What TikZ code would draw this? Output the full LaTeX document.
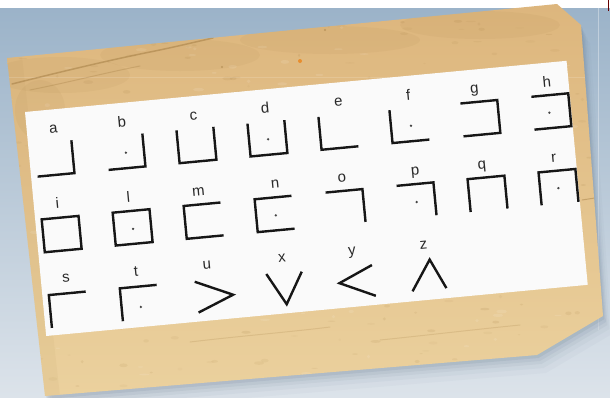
\documentclass[tikz,border=0pt]{standalone}
\usepackage{fontspec}
\setmainfont{Liberation Sans}
\definecolor{bgtop}{HTML}{9AB2C8}
\definecolor{bgmid}{HTML}{BCCBD9}
\definecolor{bgbot}{HTML}{DCE3EA}
\definecolor{partop}{HTML}{DDB67D}
\definecolor{parbot}{HTML}{EBD19E}
\definecolor{parspeck}{HTML}{A07A40}
\definecolor{cardc}{HTML}{FAFAFA}
\definecolor{inkc}{HTML}{161616}
\definecolor{shadowc}{HTML}{5F7489}
\begin{document}
\begin{tikzpicture}[x=1pt,y=-1pt,
  glyph/.style={line width=2.4pt,draw=inkc,line join=miter,line cap=butt},
  lbl/.style={anchor=base,inner sep=0pt,font=\fontsize{15}{18}\selectfont,text=inkc!92},
  pdot/.style={fill=inkc!80,draw=none},
  crack/.style={draw=parspeck,line width=1pt,opacity=0.35,line cap=round}]
\useasboundingbox (0,0) rectangle (610,397);
% background
\shade[top color=bgtop,middle color=bgmid,bottom color=bgbot] (0,0) rectangle (610,397);
\draw[white,opacity=0.35,line width=0.7pt] (598,8) -- (598,330);
\fill[white] (0,0) rectangle (610,7.5);
\draw[red!40!black,line width=1.2pt] (608.5,0) -- (608.5,11);
\def\parpath{(7,58) -- (557,4) -- (581,25) -- (603,316) -- (537,355) -- (45,396) -- cycle}
% shadow of the parchment
\foreach \s/\o in {3/0.12,6/0.09,9/0.07,13/0.05,18/0.04}{
  \fill[shadowc,opacity=\o,shift={(0.5*\s,\s)}] \parpath;
}
% parchment
\shade[top color=partop,bottom color=parbot] \parpath;
\begin{scope}
  \clip \parpath;
  \pgfmathsetseed{42}
  \foreach \i in {1,...,320}{
    \pgfmathsetmacro\px{610*rnd}
    \pgfmathsetmacro\py{397*rnd}
    \pgfmathsetmacro\ra{1.2+4*rnd}
    \pgfmathsetmacro\rb{0.5+1.4*rnd}
    \pgfmathsetmacro\oo{0.04+0.10*rnd}
    \fill[parspeck,opacity=\oo] (\px,\py) ellipse [x radius=\ra pt, y radius=\rb pt];
  }
  \foreach \i in {1,...,120}{
    \pgfmathsetmacro\px{610*rnd}
    \pgfmathsetmacro\py{397*rnd}
    \pgfmathsetmacro\ra{1.5+4*rnd}
    \pgfmathsetmacro\rb{0.6+1.4*rnd}
    \fill[white,opacity=0.10] (\px,\py) ellipse [x radius=\ra pt, y radius=\rb pt];
  }
  \foreach \cx/\cy/\rx/\ry in {60/75/70/18, 180/55/80/16, 330/40/90/14, 480/25/80/14, 40/110/25/30}{
    \fill[parspeck,opacity=0.07] (\cx,\cy) ellipse [x radius=\rx pt, y radius=\ry pt];
  }
  \fill[parspeck,opacity=0.06] (7,58) -- (22,57) -- (60,396) -- (45,396) -- cycle;
  \draw[white,opacity=0.15,line width=0.7pt] (0,77) -- (610,77);
  \draw[crack,line width=1.5pt,opacity=0.5] (12,84) .. controls (60,72) and (110,60) .. (150,52) .. controls (175,47) and (195,42) .. (213,38);
  \draw[crack,opacity=0.3] (30,90) .. controls (70,82) and (100,74) .. (140,66);
  \fill[orange!70!brown,opacity=0.75] (300,61) circle [radius=2pt];
  \fill[parspeck,opacity=0.5] (222,67) circle [radius=1.2pt] (325,30) circle [radius=1.2pt];
  \draw[crack,opacity=0.45] (582,200) -- (601,197);
  \draw[crack,opacity=0.2] (190,342) .. controls (240,336) and (290,332) .. (330,327);
  \draw[crack,opacity=0.2] (380,340) .. controls (420,336) and (470,330) .. (520,325);
\end{scope}
% card with the cipher
\begin{scope}[shift={(25,112)},rotate=5.4,transform shape]
  \fill[cardc] (0,0) rectangle (544,225);
  % row 1 labels
  \node[lbl] (la) at (26.6,24) {a};
  \node[lbl] (lb) at (95.4,24) {b};
  \node[lbl] (lc) at (167.3,24) {c};
  \node[lbl] (ld) at (239.4,24) {d};
  \node[lbl] (le) at (312.9,24) {e};
  \node[lbl] (lf) at (383.2,24) {f};
  \node[lbl] (lg) at (449.5,24) {g};
  \node[lbl] (lh) at (522.4,24) {h};
  % row 2 labels
  \node[lbl] (li) at (23.6,99.5) {i};
  \node[lbl] (ll) at (94.9,99.5) {l};
  \node[lbl] (lm) at (165.2,99.5) {m};
  \node[lbl] (ln) at (242.2,99.5) {n};
  \node[lbl] (lo) at (309.2,99.5) {o};
  \node[lbl] (lp) at (382.8,99.5) {p};
  \node[lbl] (lq) at (449.9,99.5) {q};
  \node[lbl] (lr) at (522,99.5) {r};
  % row 3 labels
  \node[lbl] (ls) at (25.2,173.7) {s};
  \node[lbl] (lt) at (95.6,173.7) {t};
  \node[lbl] (lu) at (166.7,173.7) {u};
  \node[lbl] (lx) at (242,173.7) {x};
  \node[lbl] (ly) at (312.3,173.7) {y};
  \node[lbl] (lz) at (384.2,173.7) {z};
  % row 1 glyphs
  \draw[glyph] (43.5,32.5) -- (43.5,65.5) -- (6.5,65.5);
  \draw[glyph] (114.8,32.5) -- (114.8,65.5) -- (77.8,65.5);
  \fill[pdot] (96.6,50) circle [radius=1.3pt];
  \draw[glyph] (149.1,32.5) -- (149.1,65.5) -- (186.1,65.5) -- (186.1,32.5);
  \draw[glyph] (220.4,32.5) -- (220.4,65.5) -- (257.4,65.5) -- (257.4,32.5);
  \fill[pdot] (239.5,50) circle [radius=1.3pt];
  \draw[glyph] (291.7,32.5) -- (291.7,65.5) -- (328.7,65.5);
  \draw[glyph] (363,32.5) -- (363,65.5) -- (400,65.5);
  \fill[pdot] (383,50) circle [radius=1.3pt];
  \draw[glyph] (434.3,32.5) -- (471.3,32.5) -- (471.3,65.5) -- (434.3,65.5);
  \draw[glyph] (505.6,32.5) -- (542.6,32.5) -- (542.6,65.5) -- (505.6,65.5);
  \fill[pdot] (522,50) circle [radius=1.3pt];
  % row 2 glyphs
  \draw[glyph] (6.5,108.5) rectangle (43.5,141.5);
  \draw[glyph] (77.8,108.5) rectangle (114.8,141.5);
  \fill[pdot] (96.6,126.5) circle [radius=1.3pt];
  \draw[glyph] (186.1,108.5) -- (149.1,108.5) -- (149.1,141.5) -- (186.1,141.5);
  \draw[glyph] (257.4,108.5) -- (220.4,108.5) -- (220.4,141.5) -- (257.4,141.5);
  \fill[pdot] (240,126.5) circle [radius=1.3pt];
  \draw[glyph] (291.7,108.5) -- (328.7,108.5) -- (328.7,141.5);
  \draw[glyph] (363,108.5) -- (400,108.5) -- (400,141.5);
  \fill[pdot] (381.5,126.5) circle [radius=1.3pt];
  \draw[glyph] (434.3,141.5) -- (434.3,108.5) -- (471.3,108.5) -- (471.3,141.5);
  \draw[glyph] (505.6,141.5) -- (505.6,108.5) -- (542.6,108.5) -- (542.6,141.5);
  \fill[pdot] (523.9,126) circle [radius=1.3pt];
  % row 3 glyphs
  \draw[glyph] (6.5,217.5) -- (6.5,184.5) -- (43.5,184.5);
  \draw[glyph] (77.8,217.5) -- (77.8,184.5) -- (114.8,184.5);
  \fill[pdot] (97,205) circle [radius=1.3pt];
  \draw[glyph] (153,185) -- (190,201.5) -- (154,216);
  \draw[glyph] (225,184) -- (242.5,216) -- (260.5,185);
  \draw[glyph] (331,185) -- (297,200) -- (332,216);
  \draw[glyph] (369,215) -- (389,185) -- (403,215);
\end{scope}
\end{tikzpicture}
\end{document}
